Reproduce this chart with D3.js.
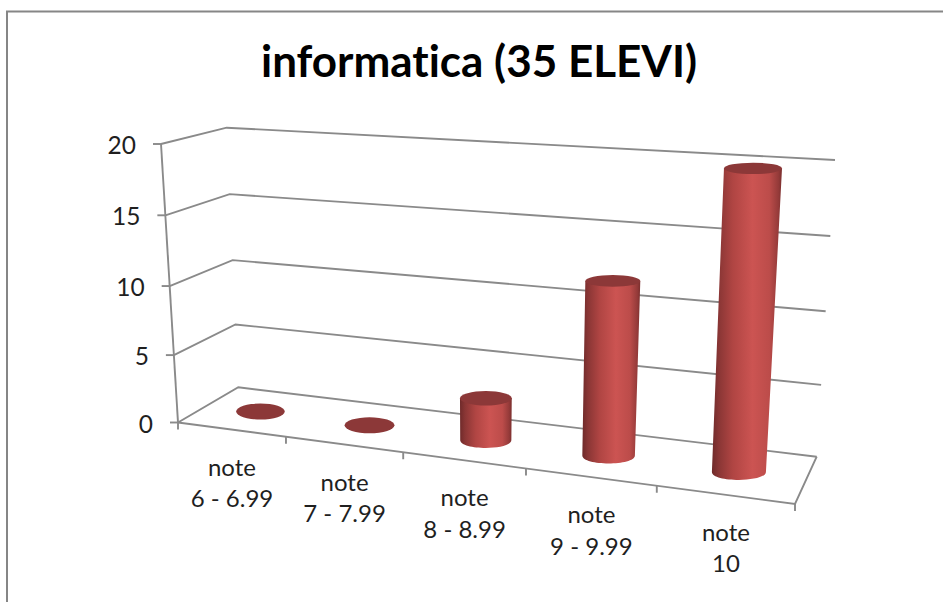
<!DOCTYPE html>
<html>
<head>
<meta charset="utf-8">
<script src="https://cdn.jsdelivr.net/npm/d3@7"></script>
<style>
html,body{margin:0;padding:0;background:#fff;overflow:hidden}
svg{display:block}
text{font-family:Lato,"Open Sans",sans-serif;fill:#1f1f1f;font-variant-ligatures:none}
</style>
</head>
<body>
<div id="chart"></div>
<script>
const titleText = "informatica (35 ELEVI)";
const categories = [["note","6 - 6.99"],["note","7 - 7.99"],["note","8 - 8.99"],["note","9 - 9.99"],["note","10"]];
const values = [0,0,3,12,20];
const yTicks = [0,5,10,15,20];

const W=943,H=602;
const svg=d3.select("#chart").append("svg").attr("width",W).attr("height",H);

// perspective box corners (screen): front/back, left/right, floor/ceiling
const FL0=[178,422.5],FR0=[795,504],BL0=[238.3,387.3],BR0=[816.7,456.7];
const FL1=[161,144],FR1=[812,185],BL1=[226.7,127.7],BR1=[835,160];

// category position along width, foreshortened by the perspective
const uScale=d3.scaleLinear().domain([0,1,2,3,4,5]).range([0,.175,.365,.564,.776,1]);
// value to height fraction, foreshortened
const wScale=d3.scaleLinear().domain(yTicks).range([0,.242,.49,.744,1]);

function project(u,v,val){
  const w=wScale(val), mix=d3.interpolateNumber;
  const corner=(a,b,i)=>mix(a[i],b[i])(w);
  return [0,1].map(i=>{
    const fl=corner(FL0,FL1,i),fr=corner(FR0,FR1,i),bl=corner(BL0,BL1,i),br=corner(BR0,BR1,i);
    const f=mix(fl,fr)(u),b=mix(bl,br)(u);
    return mix(f,b)(v);
  });
}

const line=d3.line();
const gridColor="#8a8a8a";
const draw=(pts,sw=1.9,c=gridColor)=>svg.append("path").attr("d",line(pts)).attr("fill","none").attr("stroke",c).attr("stroke-width",sw);

// chart border
svg.append("rect").attr("x",7).attr("y",11.5).attr("width",W+20).attr("height",H+20)
  .attr("fill","#fff").attr("stroke","#868686").attr("stroke-width",2);

// title
svg.append("text").attr("x",479).attr("y",77).attr("text-anchor","middle")
  .attr("font-size",44).attr("font-weight",700).style("fill","#000").text(titleText);

// gridlines on side wall + back wall
yTicks.forEach(t=>{
  draw([project(0,0,t),project(0,1,t),project(1,1,t)]);
  const p=project(0,0,t);
  draw([[p[0]-8,p[1]],p]);
  svg.append("text").attr("x",p[0]-25).attr("y",p[1]+10).attr("text-anchor","end")
    .attr("font-size",24.5).text(t);
});
// value axis
draw([project(0,0,0),project(0,0,20)]);
// floor front and right edges
draw([project(0,0,0),project(1,0,0),project(1,1,0)]);
// category ticks
uScale.domain().forEach(i=>{
  const p=project(uScale(i),0,0);
  draw([p,[p[0],p[1]+7]]);
});

// gradient for the cylinders
const defs=svg.append("defs");
const grad=defs.append("linearGradient").attr("id","cyl").attr("x1",0).attr("x2",1).attr("y1",0).attr("y2",0);
[[0,"#6f2a2a"],[.1,"#8a3635"],[.3,"#b04543"],[.58,"#cc5452"],[.82,"#bc4c4a"],[.95,"#943a39"],[1,"#7a2f2e"]]
  .forEach(([o,c])=>grad.append("stop").attr("offset",o).attr("stop-color",c));

const rxOf=(u,val)=>24+3.4*u+.1*val;
const ryScale=d3.scaleLinear().domain([0,3,12,20]).range([8,7.2,5.9,5.7]);
const topColor="#8c3838";

values.forEach((val,i)=>{
  const u=(uScale(i)+uScale(i+1))/2;
  const b=project(u,.5,0),t=project(u,.5,val);
  const rb=rxOf(u,0),rt=rxOf(u,val),ryb=ryScale(0),ryt=ryScale(val);
  if(val>0){
    const d=d3.path();
    d.moveTo(t[0]-rt,t[1]);
    d.lineTo(t[0]+rt,t[1]);
    d.lineTo(b[0]+rb,b[1]);
    d.bezierCurveTo(b[0]+rb,b[1]+ryb*1.33,b[0]-rb,b[1]+ryb*1.33,b[0]-rb,b[1]);
    d.closePath();
    svg.append("path").attr("d",d.toString()).attr("fill","url(#cyl)");
  }
  svg.append("ellipse").attr("cx",t[0]).attr("cy",t[1]).attr("rx",rt).attr("ry",ryt).attr("fill",topColor);
});

// category labels
categories.forEach((lines,i)=>{
  const u=(uScale(i)+uScale(i+1))/2;
  const p=project(u,0,0);
  lines.forEach((s,k)=>{
    svg.append("text").attr("x",p[0]).attr("y",p[1]+46+k*31.5).attr("text-anchor","middle")
      .attr("font-size",24).text(s);
  });
});
</script>
</body>
</html>
